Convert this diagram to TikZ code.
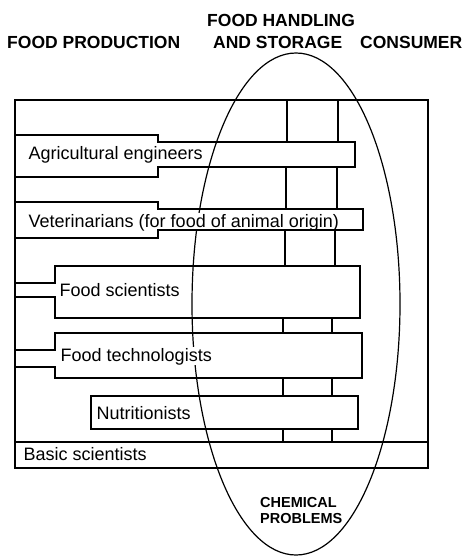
\documentclass[tikz,border=0pt]{standalone}
\usepackage{fontspec}
\setmainfont{Liberation Sans}
\tikzset{
  head/.style={anchor=base west,inner sep=0pt,font=\bfseries\fontsize{17.5}{20}\selectfont},
  lbl/.style={anchor=base west,inner sep=0.5pt,fill=white,font=\fontsize{18}{21}\selectfont},
  box/.style={line width=1.6pt},
  link/.style={line width=1.6pt}
}
\begin{document}
\begin{tikzpicture}[x=1pt,y=-1pt]
      \useasboundingbox (0,0) rectangle (465,556);
      % headings
      \node [head] (prod) at (7,49) {FOOD PRODUCTION};
      \node [head] (handling) at (207,27) {FOOD HANDLING};
      \node [head] (storage) at (213,49) {AND STORAGE};
      \node [head] (consumer) at (360,49) {CONSUMER};
      % chemical problems
      \draw [line width=1.2pt] (296,304) ellipse [x radius=104, y radius=251];
      \node [head,font=\bfseries\fontsize{14.5}{17}\selectfont] (chem) at (260,507) {CHEMICAL};
      \node [head,font=\bfseries\fontsize{14.5}{17}\selectfont] (probl) at (260,523) {PROBLEMS};
      % labels
      \node [lbl] (agri) at (28,160) {Agricultural engineers};
      \node [lbl] (vet) at (28,227) {Veterinarians (for food of animal origin)};
      \node [lbl] (foodsci) at (59,296) {Food scientists};
      \node [lbl] (foodtech) at (60,361) {Food technologists};
      \node [lbl] (nutri) at (96,419) {Nutritionists};
      \node [lbl] (basic) at (23,460) {Basic scientists};
      % frame
      \draw [box] (15,468) -- (15,100) -- (428,100) -- (428,468);
      \draw [line width=2.6pt] (14,468) -- (429,468);
      \draw [box] (15,442) -- (428,442);
      % boxes
      \draw [box] (15,135) -- (158,135) -- (158,142) -- (355,142) -- (355,167) -- (158,167) -- (158,177) -- (15,177);
      \draw [box] (15,202) -- (158,202) -- (158,209) -- (363,209) -- (363,230) -- (158,230) -- (158,238) -- (15,238);
      \draw [box] (15,283) -- (55,283) -- (55,266) -- (360,266) -- (360,318) -- (55,318) -- (55,297) -- (15,297);
      \draw [box] (15,350) -- (55,350) -- (55,333) -- (362,333) -- (362,378) -- (55,378) -- (55,367) -- (15,367);
      \draw [box] (91,396) rectangle (358,429);
      % links
      \draw [link] (287,100) -- (287,142);
      \draw [link] (338,100) -- (338,142);
      \draw [link] (286,167) -- (286,209);
      \draw [link] (337,167) -- (337,209);
      \draw [link] (285,230) -- (285,266);
      \draw [link] (335,230) -- (335,266);
      \draw [link] (283,318) -- (283,333);
      \draw [link] (332,318) -- (332,333);
      \draw [link] (283,378) -- (283,396);
      \draw [link] (332,378) -- (332,396);
      \draw [link] (283,429) -- (283,442);
      \draw [link] (332,429) -- (332,442);
\end{tikzpicture}
\end{document}
